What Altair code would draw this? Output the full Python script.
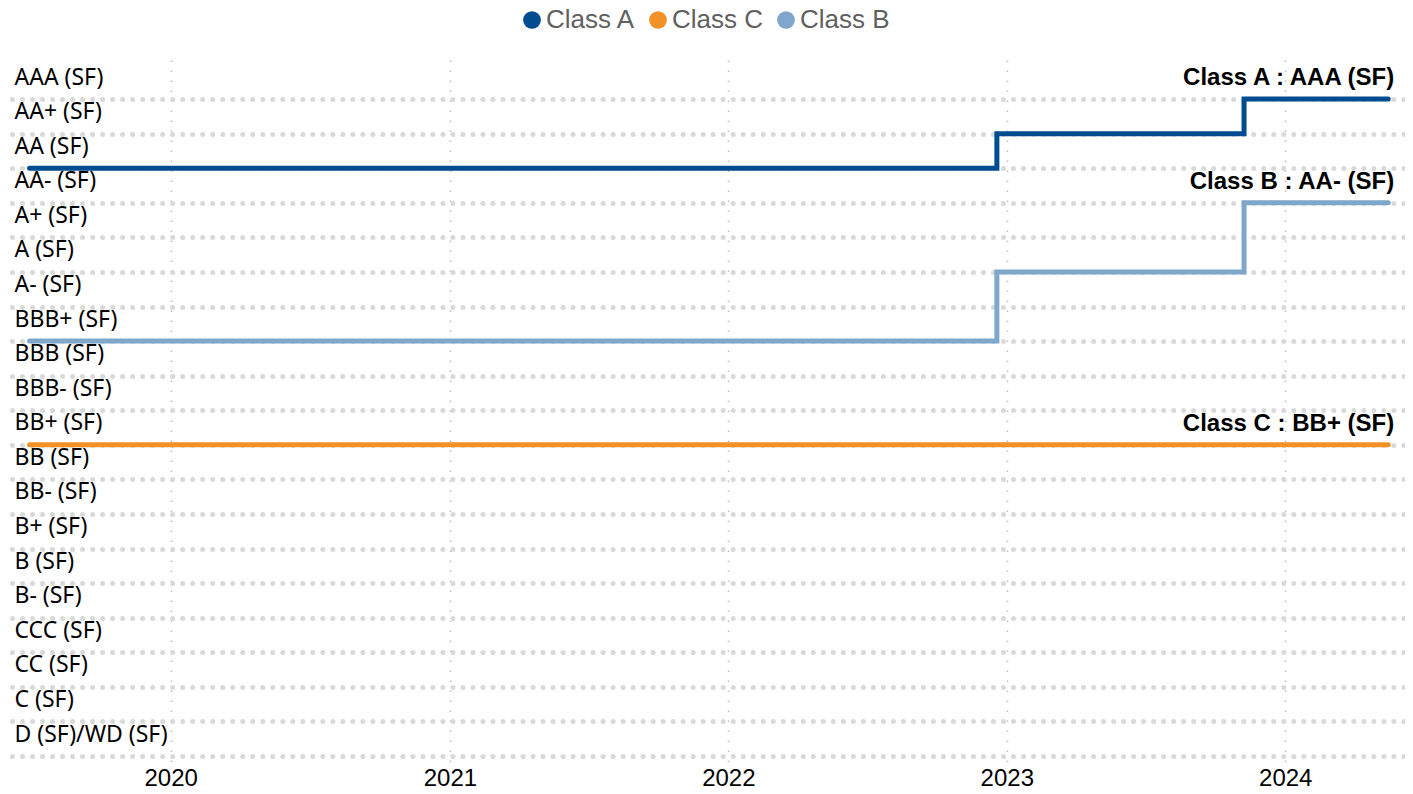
import altair as alt
import pandas as pd

ratings = ["AAA (SF)", "AA+ (SF)", "AA (SF)", "AA- (SF)", "A+ (SF)", "A (SF)", "A- (SF)",
           "BBB+ (SF)", "BBB (SF)", "BBB- (SF)", "BB+ (SF)", "BB (SF)", "BB- (SF)",
           "B+ (SF)", "B (SF)", "B- (SF)", "CCC (SF)", "CC (SF)", "C (SF)", "D (SF)/WD (SF)"]
dates = ["2019-06-30", "2022-12-19", "2023-11-08", "2024-05-15"]
class_a = ["AA (SF)", "AA+ (SF)", "AAA (SF)", "AAA (SF)"]
class_b = ["BBB+ (SF)", "A (SF)", "AA- (SF)", "AA- (SF)"]
class_c = ["BB+ (SF)", "BB+ (SF)", "BB+ (SF)", "BB+ (SF)"]
series_order = ["Class A", "Class C", "Class B"]
colors = ["#004c91", "#f29226", "#7fa6cb"]
year_ticks = [2020, 2021, 2022, 2023, 2024]

n = len(ratings)
rows = []
for name, vals in [("Class A", class_a), ("Class B", class_b), ("Class C", class_c)]:
    for d, r in zip(dates, vals):
        rows.append({"series": name, "date": d, "rating": r,
                     "level": n - 1 - ratings.index(r)})
df = pd.DataFrame(rows)
end_df = df[df["date"] == dates[-1]].copy()
end_df["label"] = end_df["series"] + " : " + end_df["rating"]

label_arr = "[" + ",".join("'" + r + "'" for r in reversed(ratings)) + "]"

x_enc = alt.X(
    "date:T",
    title=None,
    scale=alt.Scale(type="utc", domain=[alt.DateTime(year=2019, month=6, date=7, utc=True),
                                        alt.DateTime(year=2024, month=6, date=6, utc=True)]),
    axis=alt.Axis(values=[alt.DateTime(year=y, month=1, date=1, utc=True) for y in year_ticks],
                  format="%Y", labelFont="Liberation Sans", labelFontSize=24,
                  labelColor="#000000", labelPadding=1, ticks=False, domain=False,
                  labelOverlap=False,
                  grid=True, gridDash=[1.5, 8.5], gridColor="#bdbdbd", gridWidth=1.5),
)
y_enc = alt.Y(
    "level:Q",
    title=None,
    scale=alt.Scale(domain=[-0.26, 20.13], nice=False, zero=False),
    axis=alt.Axis(values=list(range(n)), labelExpr=label_arr + "[datum.value]",
                  labelAlign="left", labelBaseline="alphabetic", labelPadding=-2,
                  labelOffset=-15, labelFont="Noto Sans", labelFontSize=23, labelColor="#000000",
                  labelLimit=400, labelOverlap=False, labelBound=False, ticks=False,
                  tickSize=0, domain=False,
                  grid=True, gridDash=[0.01, 10], gridCap="round", gridWidth=5,
                  gridColor="#d9d9d9"),
)

color_scale = alt.Scale(domain=series_order, range=colors)

lines = alt.Chart(df).mark_line(interpolate="step-after", strokeWidth=5,
                                strokeCap="round").encode(
    color=alt.Color("series:N", scale=color_scale, legend=None),
)

legend_pts = alt.Chart(end_df).mark_circle(opacity=0).encode(
    color=alt.Color("series:N", scale=color_scale,
                    legend=alt.Legend(title=None, orient="none", direction="horizontal",
                                      legendX=507, legendY=-53, symbolType="circle",
                                      symbolSize=314, symbolOpacity=1, symbolStrokeWidth=0,
                                      labelFont="Liberation Sans", labelFontSize=26,
                                      labelColor="#606060", labelOffset=1,
                                      columnPadding=9, padding=0)),
)

labels = alt.Chart(end_df).mark_text(align="right", baseline="alphabetic", dx=6, dy=-14,
                                     font="Liberation Sans", fontSize=24,
                                     fontWeight="bold", color="#000000").encode(
    text="label:N")

chart = alt.layer(lines, legend_pts, labels).encode(x=x_enc, y=y_enc).resolve_legend(
    color="independent"
).properties(
    width=1393, height=705,
    autosize=alt.AutoSizeParams(type="none"),
    padding={"left": 4, "top": 52, "right": 0, "bottom": 21},
).configure_view(stroke=None)

chart.save("out.html", embed_options={"renderer": "svg", "actions": False})
